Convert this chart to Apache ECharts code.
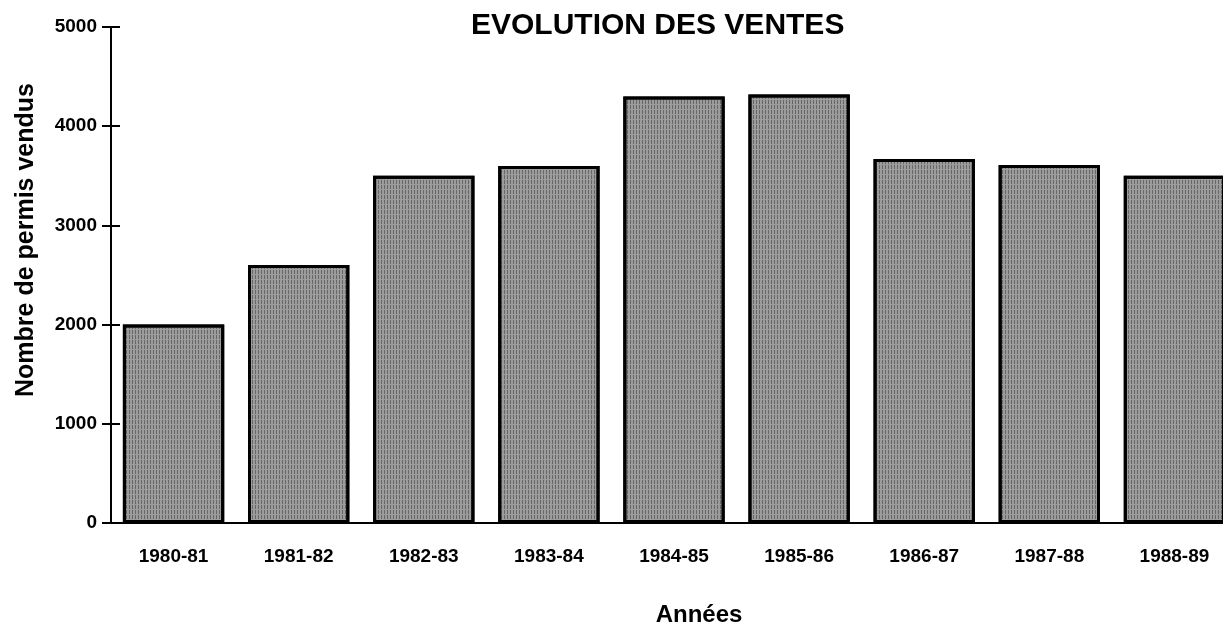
<!DOCTYPE html>
<html>
<head>
<meta charset="utf-8">
<script src="https://cdn.jsdelivr.net/npm/echarts@6/dist/echarts.min.js"></script>
<style>
    html, body {margin: 0; padding: 0; background: #fff;}
    #chart {width: 1223px; height: 628px;}
</style>
</head>
<body>
<div id="chart"></div>
<script>
// 数据
var annees = ['1980-81', '1981-82', '1982-83', '1983-84', '1984-85', '1985-86', '1986-87', '1987-88', '1988-89'];
var ventes = [2000, 2600, 3500, 3600, 4300, 4320, 3670, 3610, 3500];
var yTicks = [0, 1000, 2000, 3000, 4000, 5000];

var fontMain = '"Liberation Sans", Arial, sans-serif';

function ventesChart(elem) {
    var myChart = echarts.init(document.getElementById(elem));
    var option = {
        title: {
            text: 'EVOLUTION DES VENTES',
            left: 466,
            top: 6,
            textStyle: {
                fontFamily: fontMain,
                fontSize: 30,
                fontWeight: 'bold',
                color: '#000'
            }
        },
        grid: {
            left: 111,
            right: -14,
            top: 27,
            bottom: 105,
            outerBoundsMode: 'none'
        },
        xAxis: {
            type: 'category',
            data: annees,
            name: 'Années',
            nameLocation: 'middle',
            nameGap: 80,
            nameTextStyle: {
                fontFamily: fontMain,
                fontSize: 24,
                fontWeight: 'bold',
                color: '#000',
                padding: [0, 0, 0, 50]
            },
            axisLine: {lineStyle: {color: '#000', width: 2}},
            axisTick: {show: false},
            axisLabel: {
                color: '#000',
                fontFamily: fontMain,
                fontSize: 19,
                fontWeight: 'bold',
                margin: 24,
                interval: 0
            }
        },
        yAxis: [
            {
                type: 'value',
                min: yTicks[0],
                max: yTicks[yTicks.length - 1],
                interval: 1000,
                name: 'Nombre de permis vendus',
                nameLocation: 'middle',
                nameGap: 72,
                nameTextStyle: {
                    fontFamily: fontMain,
                    fontSize: 25,
                    fontWeight: 'bold',
                    color: '#000',
                    padding: [0, 0, 0, 70]
                },
                axisLine: {show: true, lineStyle: {color: '#000', width: 2}},
                axisTick: {show: true, length: 9, lineStyle: {color: '#000', width: 2}},
                axisLabel: {
                    color: '#000',
                    fontFamily: fontMain,
                    fontSize: 19,
                    fontWeight: 'bold',
                    margin: 14,
                    formatter: function (v) { return String(v); }
                },
                splitLine: {show: false}
            },
            {
                // 内侧刻度
                type: 'value',
                position: 'left',
                min: yTicks[0],
                max: yTicks[yTicks.length - 1],
                interval: 1000,
                axisLine: {show: false},
                axisTick: {show: true, inside: true, length: 9, lineStyle: {color: '#000', width: 2}},
                axisLabel: {show: false},
                splitLine: {show: false}
            }
        ],
        series: [
            {
                type: 'bar',
                data: ventes,
                barWidth: '81%',
                itemStyle: {
                    color: '#9c9c9c',
                    borderColor: '#000',
                    borderWidth: 3,
                    decal: {
                        symbol: 'rect',
                        dashArrayX: [1, 2],
                        dashArrayY: [4, 1],
                        color: 'rgba(40,40,40,0.45)',
                        rotation: 0
                    }
                },
                silent: true
            }
        ],
        animation: false
    };
    myChart.setOption(option);
}

ventesChart('chart');
</script>
</body>
</html>
